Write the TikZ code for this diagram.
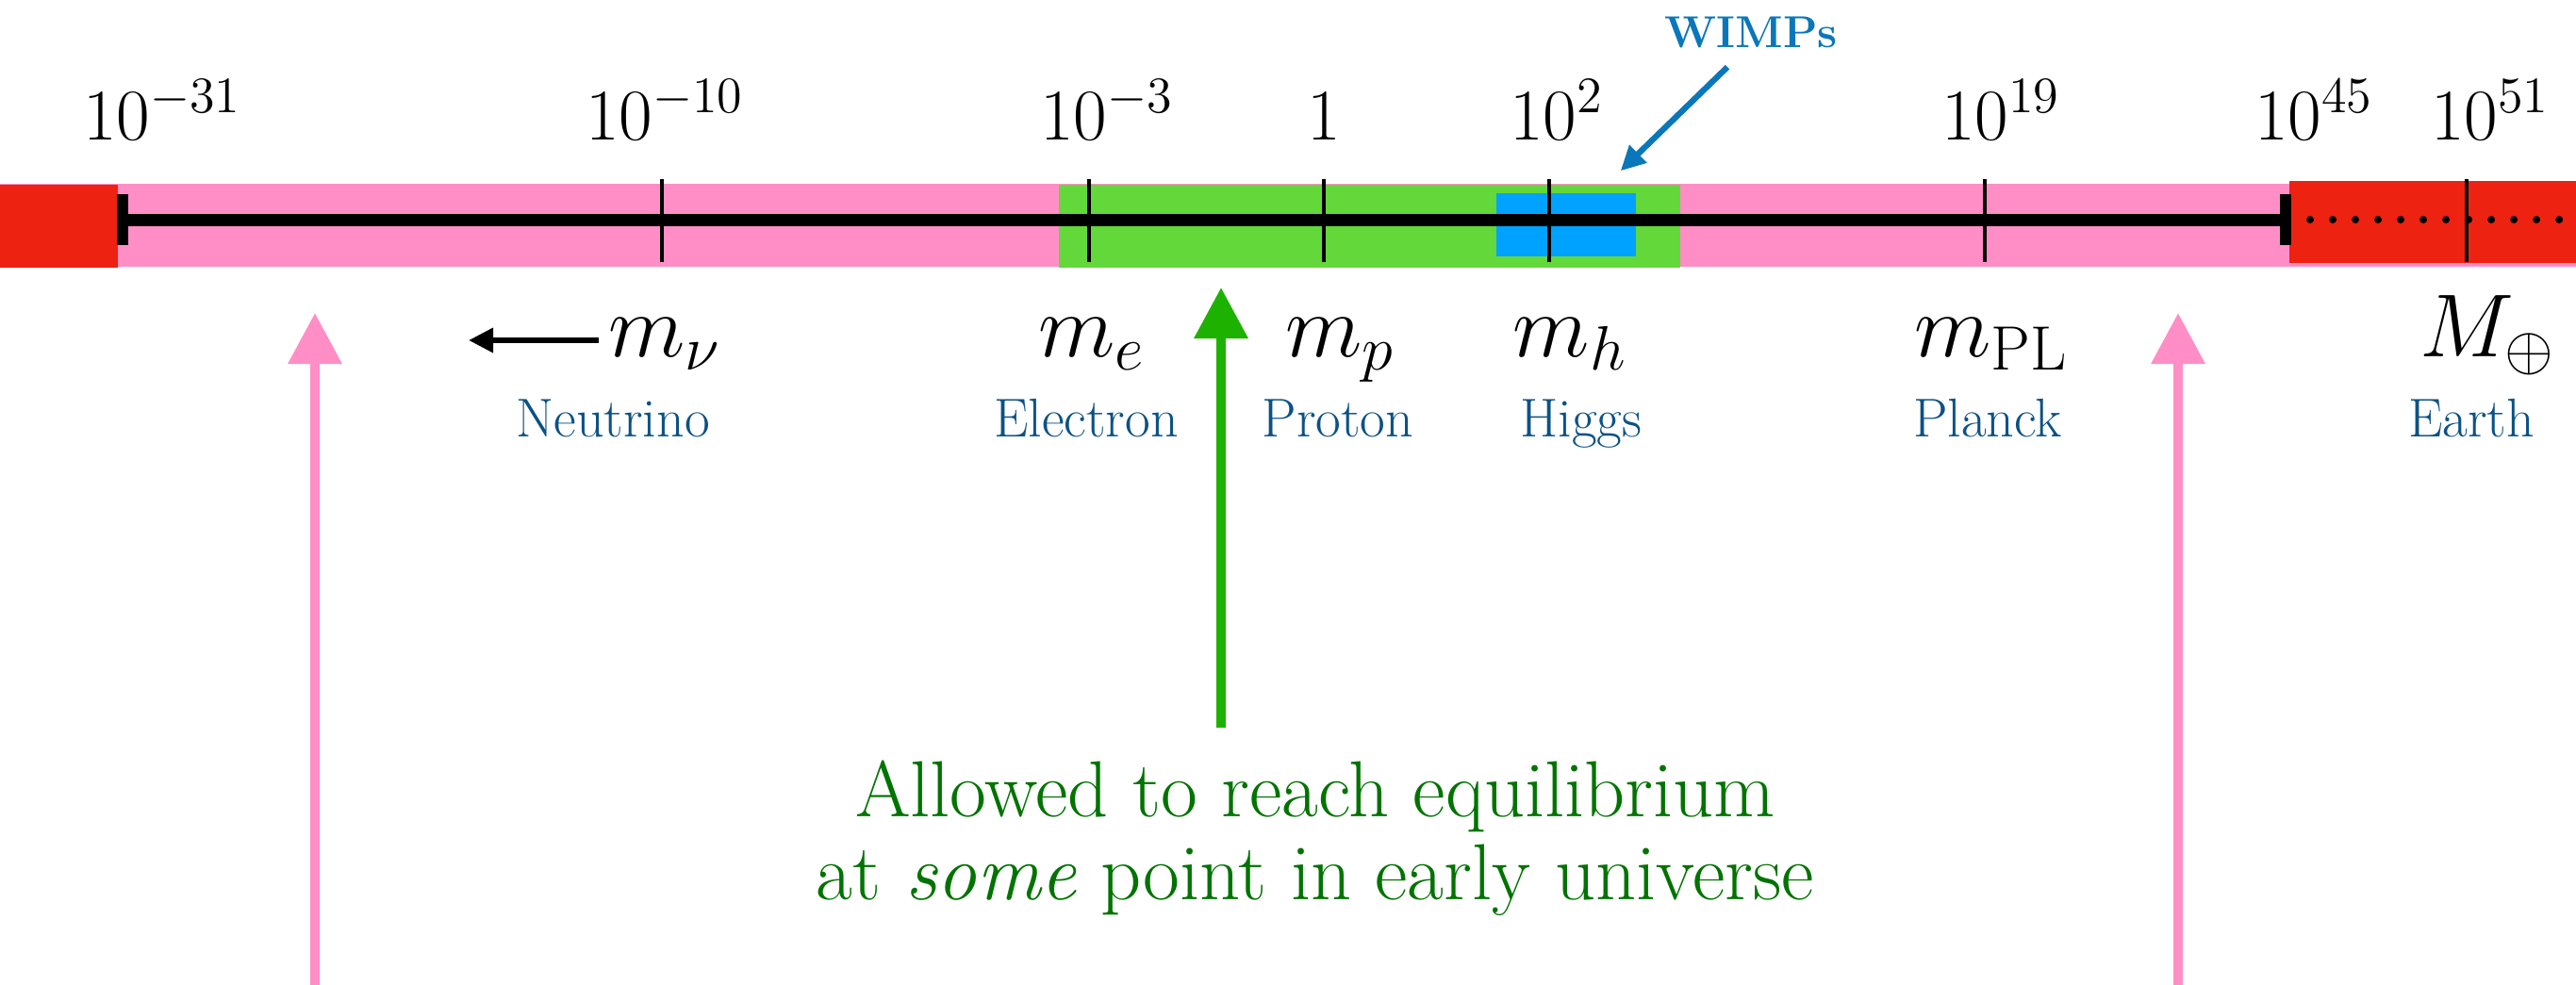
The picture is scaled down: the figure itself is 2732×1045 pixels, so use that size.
\RequirePackage{fix-cm}
\documentclass[tikz,border=0pt]{standalone}
\usepackage{amsmath}
\usepackage{tikz}
\usepackage{xcolor}
\usetikzlibrary{arrows.meta}

\definecolor{bandpink}{RGB}{255,142,198}
\definecolor{bandred}{RGB}{238,34,17}
\definecolor{bandgreen}{RGB}{98,216,58}
\definecolor{wimpblue}{RGB}{0,162,255}
\definecolor{namecol}{RGB}{11,82,133}
\definecolor{wimptext}{RGB}{10,119,186}
\definecolor{arrowgreen}{RGB}{30,178,0}
\definecolor{textgreen}{RGB}{0,115,0}

\begin{document}
\begin{tikzpicture}[x=0.01cm, y=-0.01cm,
  expo/.style={anchor=base, inner sep=0pt, font=\fontsize{22}{26}\selectfont},
  mass/.style={anchor=base, inner sep=0.1cm, font=\fontsize{27}{32}\selectfont},
  pname/.style={anchor=base, inner sep=0pt, text=namecol, font=\fontsize{16.5}{20}\selectfont},
  axtick/.style={line width=1.4pt},
  endbar/.style={line width=0.12cm},
  uparrow/.style={line width=0.1cm, -{Triangle[length=0.54cm,width=0.55cm]}},
  thinarrow/.style={line width=1.8pt, -{Triangle[length=0.26cm,width=0.25cm]}}]
\useasboundingbox (0,0) rectangle (2732,1045);

\fill[bandpink] (0,195) rectangle (2732,283);
\fill[bandred] (0,196) rectangle (125,284);
\fill[bandred] (2428,192) rectangle (2732,279);
\fill[bandgreen] (1123,196) rectangle (1782,284);
\node[fill=wimpblue, inner sep=0pt, minimum width=1.48cm, minimum height=0.67cm] (wbox) at (1661,238.5) {};

\draw[line width=0.13cm] (125,233) -- (2428,233);
\draw[line width=0.08cm, line cap=round, dash pattern=on 0pt off 0.24cm] (2450,233) -- (2732,233);
\draw[endbar] (130,206) -- (130,260);
\draw[endbar] (2424,206) -- (2424,260);
\foreach \x in {702,1155,1404,1643,2105,2616}
  \draw[axtick] (\x,190) -- (\x,278);

\node[expo] (e31) at (172,148) {$10^{-31}$};
\node[expo] (e10) at (705,148) {$10^{-10}$};
\node[expo] (e3) at (1174,148) {$10^{-3}$};
\node[expo] (e0) at (1404,148) {$1$};
\node[expo] (e2) at (1651,148) {$10^{2}$};
\node[expo] (e19) at (2122,148) {$10^{19}$};
\node[expo] (e45) at (2454,148) {$10^{45}$};
\node[expo] (e51) at (2641,148) {$10^{51}$};

\node[mass] (mnu) at (705,378) {$m_\nu$};
\node[mass] (me) at (1158,378) {$m_e$};
\node[mass] (mp) at (1421,378) {$m_p$};
\node[mass] (mh) at (1665,378) {$m_h$};
\node[mass] (mpl) at (2112,378) {$m_{\mathrm{PL}}$};
\node[mass] (mearth) at (2638,378) {$M_\oplus$};

\node[pname] (neutrino) at (650,463) {Neutrino};
\node[pname] (electron) at (1152,463) {Electron};
\node[pname] (proton) at (1419,463) {Proton};
\node[pname] (higgs) at (1677,463) {Higgs};
\node[pname] (planck) at (2108,463) {Planck};
\node[pname] (earth) at (2621,463) {Earth};

\coordinate (nuleft) at (497,361);
\draw[thinarrow] (mnu.west |- nuleft) -- (nuleft);

\node[anchor=base, inner sep=0pt, text=wimptext, font=\fontsize{13.5}{16}\selectfont\bfseries] (wimps) at (1857,50) {WIMPs};
\draw[thinarrow, draw=wimptext, fill=wimptext] ([xshift=-0.25cm,yshift=-0.2cm]wimps.south) -- ([xshift=-0.17cm,yshift=0.23cm]wbox.north east);

\node[anchor=north, inner sep=0pt, align=center, text=textgreen, font=\fontsize{24}{25}\selectfont] (allowed) at (1395,806) {Allowed to reach equilibrium\\at \emph{some} point in early universe};

\coordinate (gbot) at (1295,772);
\coordinate (gtip) at (1295,305);
\draw[uparrow, draw=arrowgreen, fill=arrowgreen] (gbot) -- (gtip);

\coordinate (plbot) at (334,1045);
\coordinate (pltip) at (334,332);
\coordinate (prbot) at (2310,1045);
\coordinate (prtip) at (2310,332);
\draw[uparrow, draw=bandpink, fill=bandpink] (plbot) -- (pltip);
\draw[uparrow, draw=bandpink, fill=bandpink] (prbot) -- (prtip);
\end{tikzpicture}
\end{document}
